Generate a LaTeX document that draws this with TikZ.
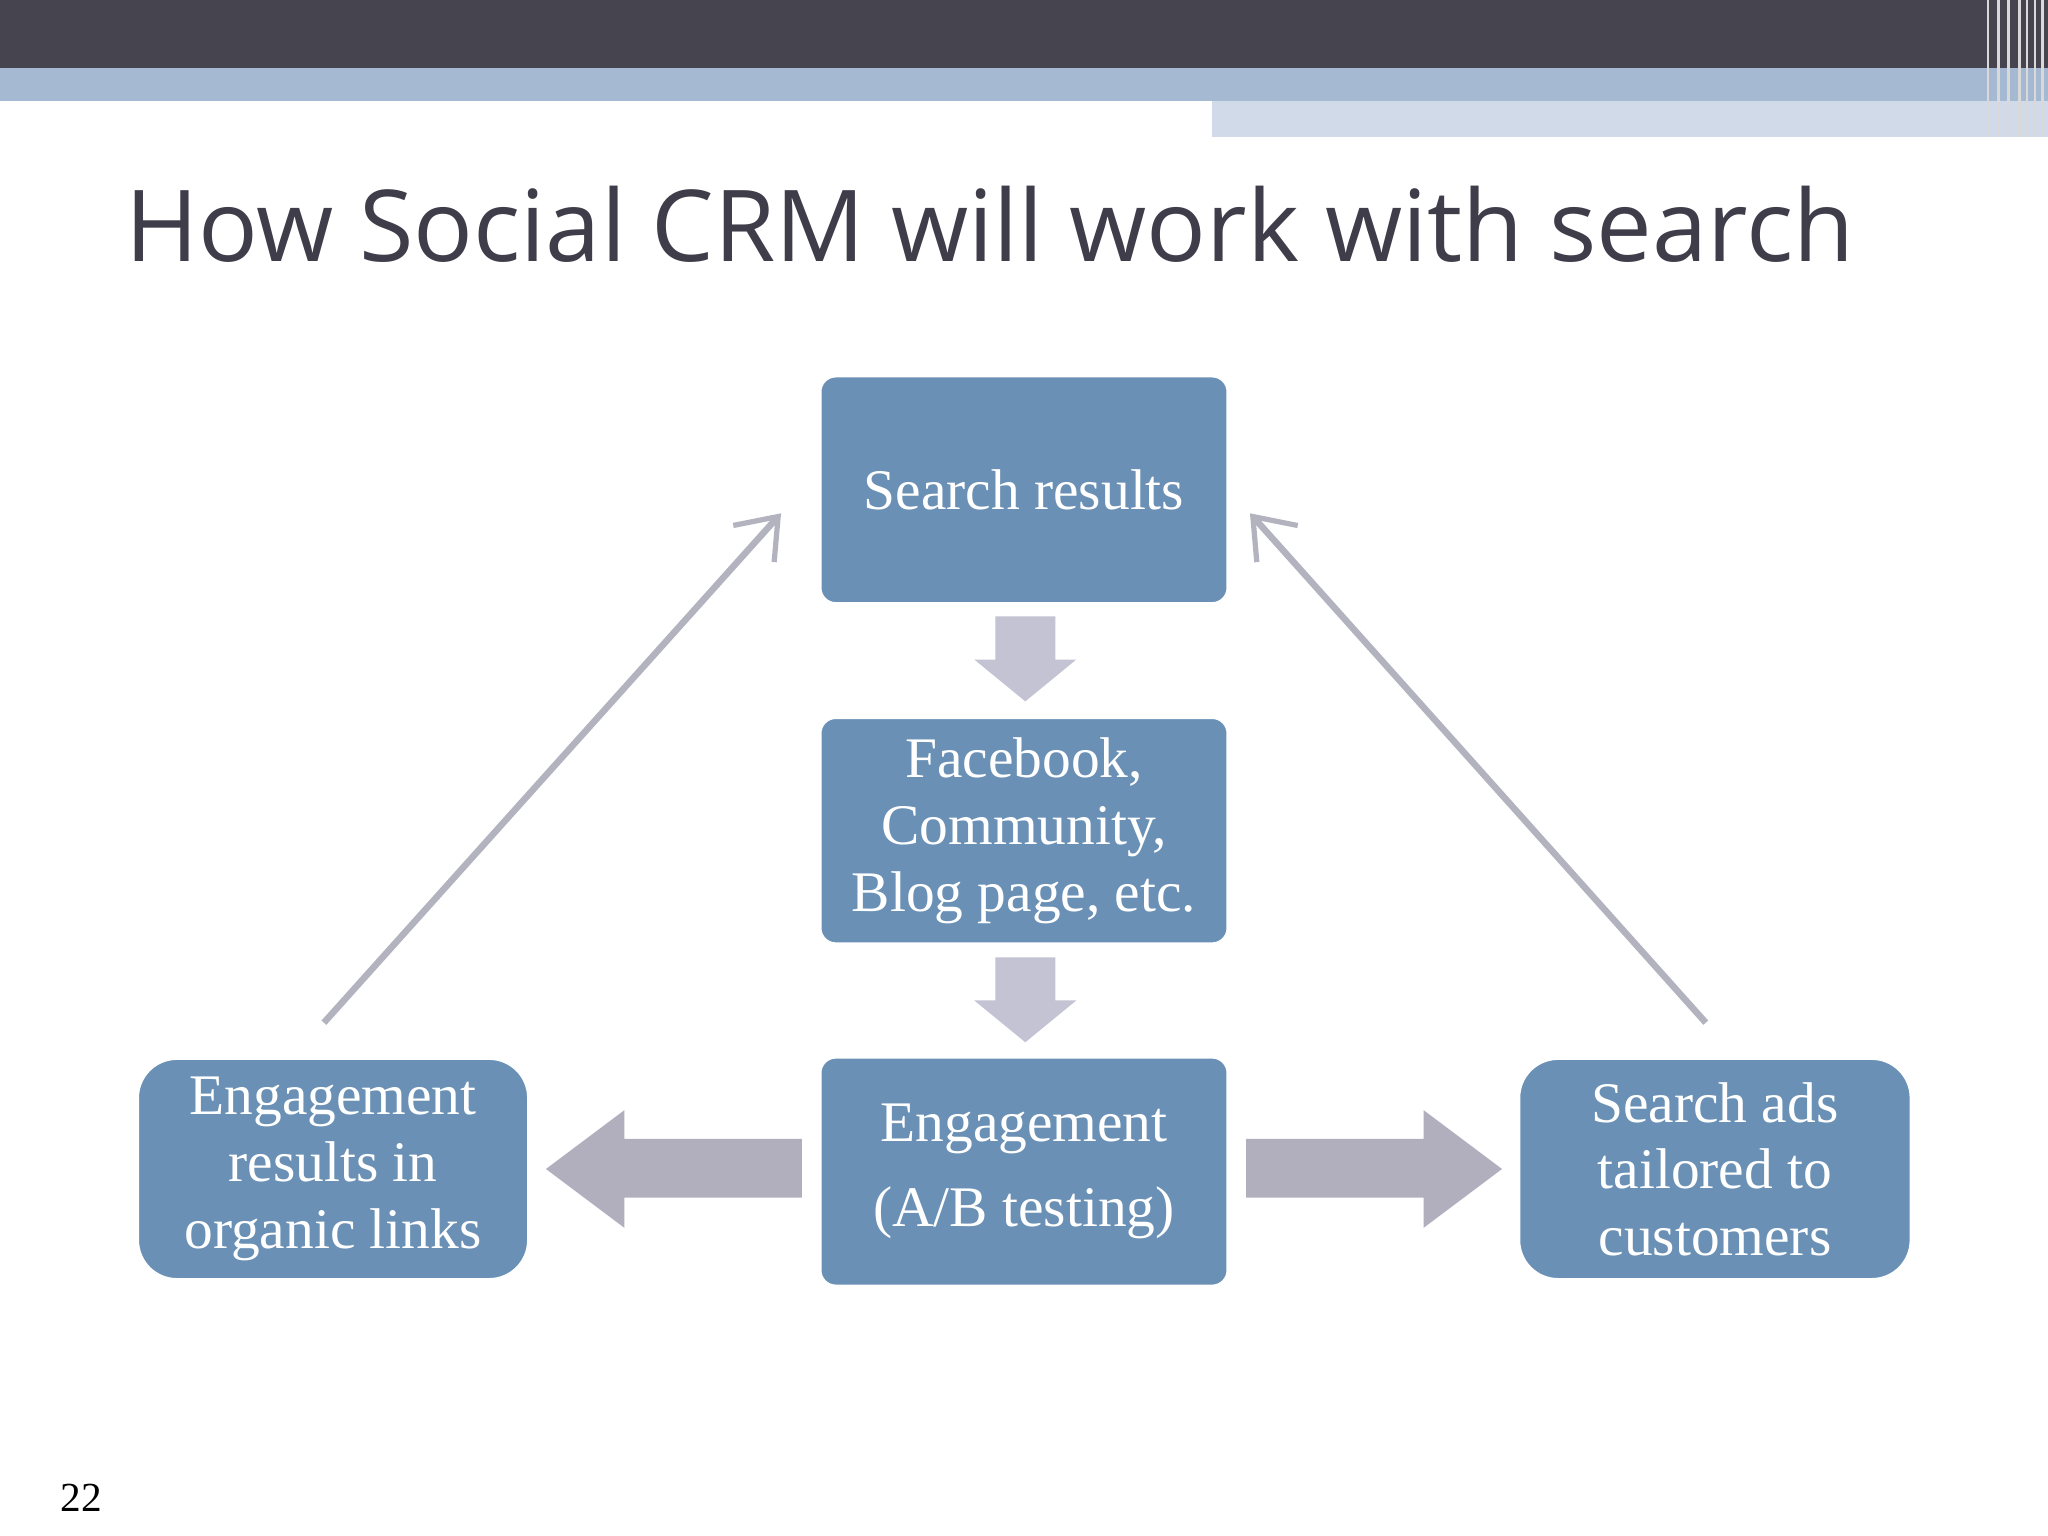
\documentclass[tikz,border=0pt]{standalone}
\usepackage{fontspec}
\usepackage{graphicx}
\setmainfont{Liberation Serif}
\newfontfamily\titlefont{Open Sans}
\usetikzlibrary{arrows.meta}
\definecolor{darkbar}{HTML}{46444F}
\definecolor{bluebar}{HTML}{A5B9D3}
\definecolor{palebar}{HTML}{D0DAE8}
\definecolor{boxblue}{HTML}{6A91B5}
\definecolor{arrgrey}{HTML}{C3C3D3}
\definecolor{harrgrey}{HTML}{B1AFBD}
\definecolor{linegrey}{HTML}{B3B3BF}
\definecolor{titlecol}{HTML}{3F3D4A}
\tikzset{
 bx/.style={fill=boxblue, draw=white, line width=0.6pt, rounded corners=0.12cm, text=white, align=center, font=\fontsize{12.5}{14.5}\selectfont, inner sep=0pt},
 rbx/.style={bx, rounded corners=0.3cm},
 diag/.style={draw=linegrey, line width=0.05cm, -{Straight Barb[length=0.28cm,width=0.42cm,line width=0.04cm]}}
}
\begin{document}
\begin{tikzpicture}[x=0.01cm,y=-0.01cm]
\useasboundingbox (0,0) rectangle (1568,1176);
\fill[white] (0,0) rectangle (1568,1176);
\fill[darkbar] (0,0) rectangle (1568,52);
\fill[bluebar] (0,52) rectangle (1568,77);
\fill[palebar] (928,77) rectangle (1568,105);
\foreach \x in {1522,1530,1538,1546,1552,1558,1564}
  \draw[white!70!gray, line width=0.6pt] (\x,0) -- (\x,105);
\node[anchor=base west, inner sep=0, text=titlecol, font=\titlefont] (title) at (95,200) {\resizebox{13.23cm}{!}{How Social CRM will work with search}};

\node[bx, minimum width=3.12cm, minimum height=1.74cm] (sr) at (784,375) {Search results};
\node[bx, minimum width=3.12cm, minimum height=1.73cm] (fb) at (784,636) {Facebook,\\Community,\\Blog page, etc.};
\node[bx, minimum width=3.12cm, minimum height=1.75cm] (en) at (784,897) {Engagement\\[4pt](A/B testing)};
\node[rbx, minimum width=2.99cm, minimum height=1.69cm] (le) at (255,895) {Engagement\\results in\\organic links};
\node[rbx, minimum width=3.0cm, minimum height=1.69cm] (ri) at (1313,895) {Search ads\\tailored to\\customers};

\fill[arrgrey] (762,472) -- (808,472) -- (808,505) -- (824,505) -- (785,537) -- (746,505) -- (762,505) -- cycle;
\fill[arrgrey] (762,733) -- (808,733) -- (808,766) -- (824,766) -- (785,798) -- (746,766) -- (762,766) -- cycle;
\fill[harrgrey] (614,872) -- (478,872) -- (478,850) -- (418,895) -- (478,940) -- (478,917) -- (614,917) -- cycle;
\fill[harrgrey] (954,872) -- (1090,872) -- (1090,850) -- (1150,895) -- (1090,940) -- (1090,917) -- (954,917) -- cycle;

\coordinate (l1) at (248,783); \coordinate (l2) at (598,393);
\coordinate (r1) at (1306,783); \coordinate (r2) at (957,393);
\draw[diag] (l1) -- (l2);
\draw[diag] (r1) -- (r2);

\node[anchor=base west, inner sep=0, font=\fontsize{9}{10}\selectfont] (pg) at (46,1157) {22};
\end{tikzpicture}
\end{document}
